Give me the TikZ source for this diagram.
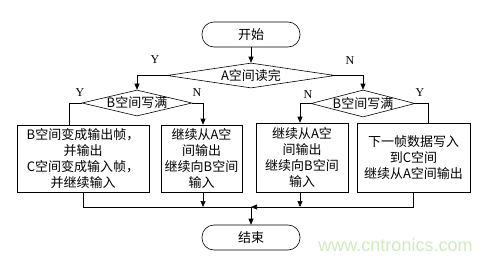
\documentclass[tikz,border=0pt]{standalone}
\usepackage{fontspec}
\setmainfont{Liberation Serif}
\newfontfamily\cjk{Noto Sans CJK SC}
\newfontfamily\wmfont{Liberation Sans}
\usetikzlibrary{shapes.geometric,arrows.meta}
\definecolor{wmgreen}{HTML}{CFEABD}
\tikzset{
  termbox/.style={draw,rounded corners=12pt,minimum width=98pt,minimum height=25pt,font=\cjk\fontsize{13}{16}\selectfont},
  testbox/.style={draw,diamond,inner sep=0pt,inner xsep=-12pt,font=\cjk\fontsize{13}{16}\selectfont},
  workbox/.style={draw,align=center,inner sep=0pt,font=\cjk\fontsize{13}{16}\selectfont},
  yn/.style={font=\fontsize{12}{12}\selectfont},
  flow/.style={-{Triangle[length=6pt,width=5pt]}}
}
\begin{document}
\begin{tikzpicture}[x=1pt,y=-1pt,line width=0.6pt]
\useasboundingbox (0,0) rectangle (498,260);
% terminals and tests
\node[termbox] (start) at (251,34.5){开始};
\node[testbox,minimum width=168pt,minimum height=25pt,aspect=6.7] (readA) at (251,75.5){A空间读完};
\node[testbox,minimum width=110pt,minimum height=26pt,aspect=4.2] (fullL) at (137,103){B空间写满};
\node[testbox,minimum width=104pt,minimum height=27pt,aspect=3.9] (fullR) at (363,103.5){B空间写满};
% actions
\node[workbox,minimum width=132pt,minimum height=67pt] (swapBC) at (83,158.5){B空间变成输出帧，\\并输出\\C空间变成输入帧，\\并继续输入};
\node[workbox,minimum width=81pt,minimum height=67pt] (keepL) at (201.5,158.5){继续从A空\\间输出\\继续向B空间\\输入};
\node[workbox,minimum width=92pt,minimum height=69pt] (keepR) at (302,157.5){继续从A空\\间输出\\继续向B空间\\输入};
\node[workbox,minimum width=113pt,minimum height=69pt] (toC) at (413.5,157.5){下一帧数据写入\\到C空间\\继续从A空间输出};
\node[termbox] (stop) at (251,237.5){结束};
\coordinate (merge) at (251,207);
% connectors
\draw[flow] (start) -- (readA);
\draw[flow] (readA.west) -| (fullL.north);
\draw[flow] (readA.east) -| (fullR.north);
\draw (fullL.west) -| ([xshift=-14pt]swapBC.north);
\draw[flow] (fullL.east) -| ([xshift=1.5pt]keepL.north);
\draw[flow] (fullR.west) -| ([xshift=-2pt]keepR.north);
\draw (fullR.east) -| ([xshift=14.5pt]toC.north);
\draw (swapBC.south) |- (merge);
\draw[flow] ([xshift=1.5pt]keepL.south) -- ([xshift=1.5pt]keepL.south |- merge);
\draw[flow] ([xshift=-2pt]keepR.south) -- ([xshift=-2pt]keepR.south |- merge);
\draw[flow] (toC.south) |- (merge);
\draw[flow] (merge) -- (stop);
% Y/N marks
\node[yn] at (155,60){Y};
\node[yn] at (350,61){N};
\node[yn] at (80,93){Y};
\node[yn] at (197,93){N};
\node[yn] at (308,95){N};
\node[yn] at (420,93){Y};
\node[font=\wmfont\fontsize{18}{18}\selectfont,text=wmgreen] at (395.5,245){www.cntronics.com};
\end{tikzpicture}
\end{document}
